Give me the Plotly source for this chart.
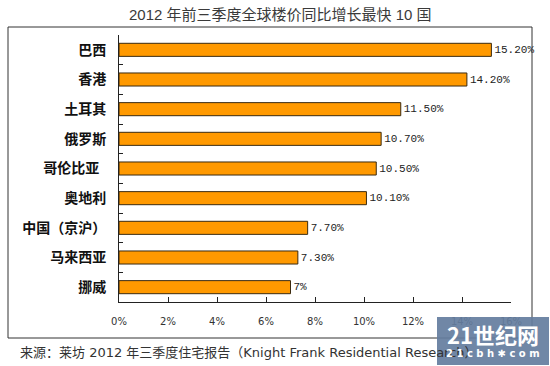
import plotly.graph_objects as go

# ---- data ----
countries = ["巴西", "香港", "土耳其", "俄罗斯", "哥伦比亚\u2002", "奥地利", "中国（京沪）", "马来西亚", "挪威"]
growth = [15.2, 14.2, 11.5, 10.7, 10.5, 10.1, 7.7, 7.3, 7.0]
value_labels = ["15.20%", "14.20%", "11.50%", "10.70%", "10.50%", "10.10%", "7.70%", "7.30%", "7%"]
x_tickvals = [0, 2, 4, 6, 8, 10, 12, 14, 16]
x_ticktext = ["0%", "2%", "4%", "6%", "8%", "10%", "12%", "14%", "16%"]
title_text = "2012 年前三季度全球楼价同比增长最快 10 国"
source_text = "来源：莱坊 2012 年三季度住宅报告（Knight Frank Residential Research）"

W, H = 550, 366
L, R, T, B = 119, 511, 35, 302  # plot area in px


def px_x(x):
    return (x - L) / (R - L)


def px_y(y):
    return (B - y) / (B - T)


fig = go.Figure()
fig.add_trace(go.Bar(
    x=growth,
    y=countries,
    orientation="h",
    marker=dict(color="#FF9900", line=dict(color="#3a2a10", width=1)),
    text=value_labels,
    textposition="outside",
    textfont=dict(family="Liberation Mono", size=11, color="#222222"),
    cliponaxis=False,
    hoverinfo="skip",
))

fig.update_layout(
    width=W, height=H,
    margin=dict(l=L, r=W - R, t=T, b=H - B),
    paper_bgcolor="white",
    plot_bgcolor="white",
    showlegend=False,
    bargap=0.56,
    xaxis=dict(
        range=[0, 16],
        tickvals=x_tickvals,
        ticktext=x_ticktext,
        ticks="inside",
        ticklen=5,
        tickcolor="#222222",
        showline=True,
        linecolor="#222222",
        linewidth=1,
        showgrid=False,
        zeroline=False,
        ticklabelstandoff=10,
        tickfont=dict(family="DejaVu Sans", size=10, color="#333333"),
        fixedrange=True,
    ),
    yaxis=dict(
        autorange="reversed",
        ticks="inside",
        tickson="boundaries",
        ticklen=4,
        tickcolor="#222222",
        showline=True,
        linecolor="#222222",
        linewidth=1,
        showgrid=False,
        ticklabelstandoff=9,
        tickfont=dict(family="Noto Sans CJK SC", size=14, color="#111111", weight="bold"),
        fixedrange=True,
    ),
    font=dict(family="Noto Sans CJK SC"),
)

# outer frame
fig.add_shape(type="rect", xref="paper", yref="paper",
              x0=px_x(8), x1=px_x(532), y0=px_y(338), y1=px_y(27),
              line=dict(color="#333333", width=1), fillcolor="rgba(0,0,0,0)", layer="below")

# title
fig.add_annotation(text=title_text, xref="paper", yref="paper",
                   x=px_x(280), y=px_y(14), xanchor="center", yanchor="middle",
                   showarrow=False, font=dict(family="Liberation Sans, Noto Sans CJK SC", size=15, color="#3a3a3a"))

# source
fig.add_annotation(text=source_text, xref="paper", yref="paper",
                   x=px_x(18), y=px_y(352), xanchor="left", yanchor="middle",
                   showarrow=False, font=dict(family="DejaVu Sans, Noto Sans CJK SC", size=13, color="#333333"))

# watermark box
fig.add_shape(type="rect", xref="paper", yref="paper",
              x0=px_x(437), x1=px_x(549), y0=px_y(365), y1=px_y(317),
              line=dict(width=0), fillcolor="rgba(100,125,158,0.92)", layer="above")
fig.add_annotation(text="<b>21世纪网</b>", xref="paper", yref="paper",
                   x=px_x(493), y=px_y(334), xanchor="center", yanchor="middle",
                   showarrow=False, font=dict(family="Noto Sans CJK SC", size=22, color="white"))
fig.add_annotation(text="<b>2 1 c b h ✱ c o m</b>", xref="paper", yref="paper",
                   x=px_x(493), y=px_y(353), xanchor="center", yanchor="middle",
                   showarrow=False, font=dict(family="DejaVu Sans", size=10, color="white"))

fig.write_html("out.html", config={"displayModeBar": False},
               post_script=["document.body.style.margin='0';"])
